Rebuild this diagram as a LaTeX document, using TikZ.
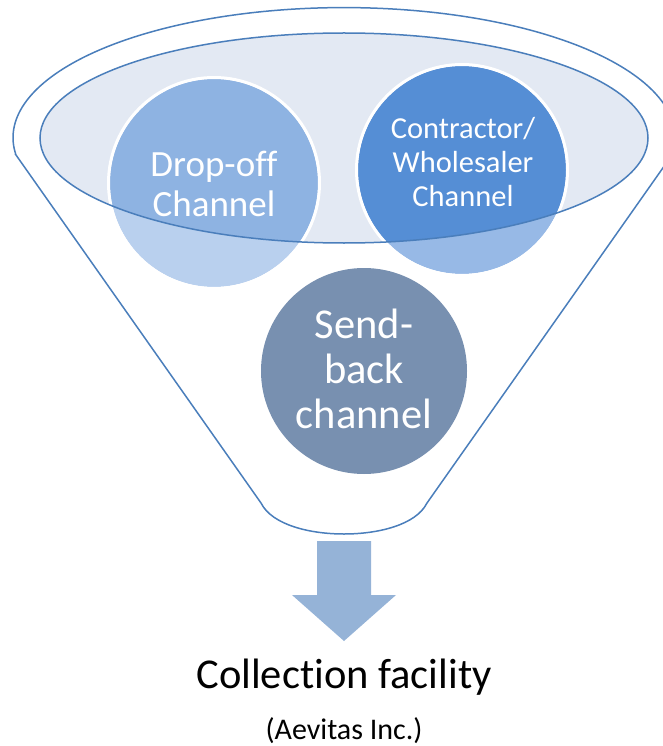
\documentclass[tikz,border=0pt]{standalone}
\usepackage{fontspec}
\setmainfont{Carlito}[Ligatures=NoCommon]
\usetikzlibrary{calc,positioning}

\definecolor{funnelLine}{RGB}{74,126,187}
\definecolor{rimFill}{RGB}{227,233,243}
\definecolor{dropLight}{RGB}{185,208,238}
\definecolor{dropDark}{RGB}{142,179,226}
\definecolor{contrLight}{RGB}{151,185,230}
\definecolor{contrDark}{RGB}{85,142,213}
\definecolor{sendFill}{RGB}{120,144,176}
\definecolor{arrowFill}{RGB}{149,179,215}

\begin{document}
\begin{tikzpicture}[x=1pt,y=-1pt,
    funnel/.style={draw=funnelLine,line width=1.5pt},
    chan/.style={text=white,align=center}]
\useasboundingbox (0,0) rectangle (662,746);

\coordinate (cTopPt) at (344,137);
\coordinate (cRimPt) at (344,138);
\coordinate (cDropPt) at (214,183);
\coordinate (cContrPt) at (462,170);
\coordinate (cSendPt) at (364,371);

\draw[funnel] (16,155) -- (261,503)
    .. controls (272,525) and (310,534) .. (344,534)
    .. controls (378,534) and (416,525) .. (427,503)
    -- (672,155) arc[start angle=7.7,end angle=-187.7,x radius=331,y radius=130] -- cycle;

\fill[rimFill] (cRimPt) ellipse[x radius=304,y radius=105];

\foreach \v/\lt/\dk in
{cDropPt/dropLight/dropDark,
    cContrPt/contrLight/contrDark}
{
    \fill[\lt] (\v) circle[radius=104];
    \begin{scope}
        \clip (cRimPt) ellipse[x radius=304,y radius=105];
        \fill[\dk] (\v) circle[radius=104];
    \end{scope}
    \draw[white,line width=3pt] (\v) circle[radius=105.5];
};
\fill[sendFill] (cSendPt) circle[radius=103];

\draw[funnel] (cRimPt) ellipse[x radius=304,y radius=105];

\fill[arrowFill] (317,541) -- (371,541) -- (371,595) -- (396,595)
    -- (344,641) -- (292,595) -- (317,595) -- cycle;

\node[chan,font=\fontsize{37}{40}\selectfont] (tDrop) at ($(cDropPt)+(0,1)$) {Drop-off\\Channel};
\node[chan,font=\fontsize{30.5}{34}\selectfont] (tContr) at ($(cContrPt)+(1,-8)$) {Contractor/\\Wholesaler\\Channel};
\node[chan,font=\fontsize{42.5}{45}\selectfont] (tSend) at ($(cSendPt)+(0,-2)$) {Send-\\back\\channel};

\node[anchor=base,font=\fontsize{42.5}{48}\selectfont] (tFacility) at (344,688) {Collection facility};
\node[anchor=base,font=\fontsize{30}{36}\selectfont] (tOwner) at (344,739) {(Aevitas Inc.)};

\end{tikzpicture}
\end{document}
